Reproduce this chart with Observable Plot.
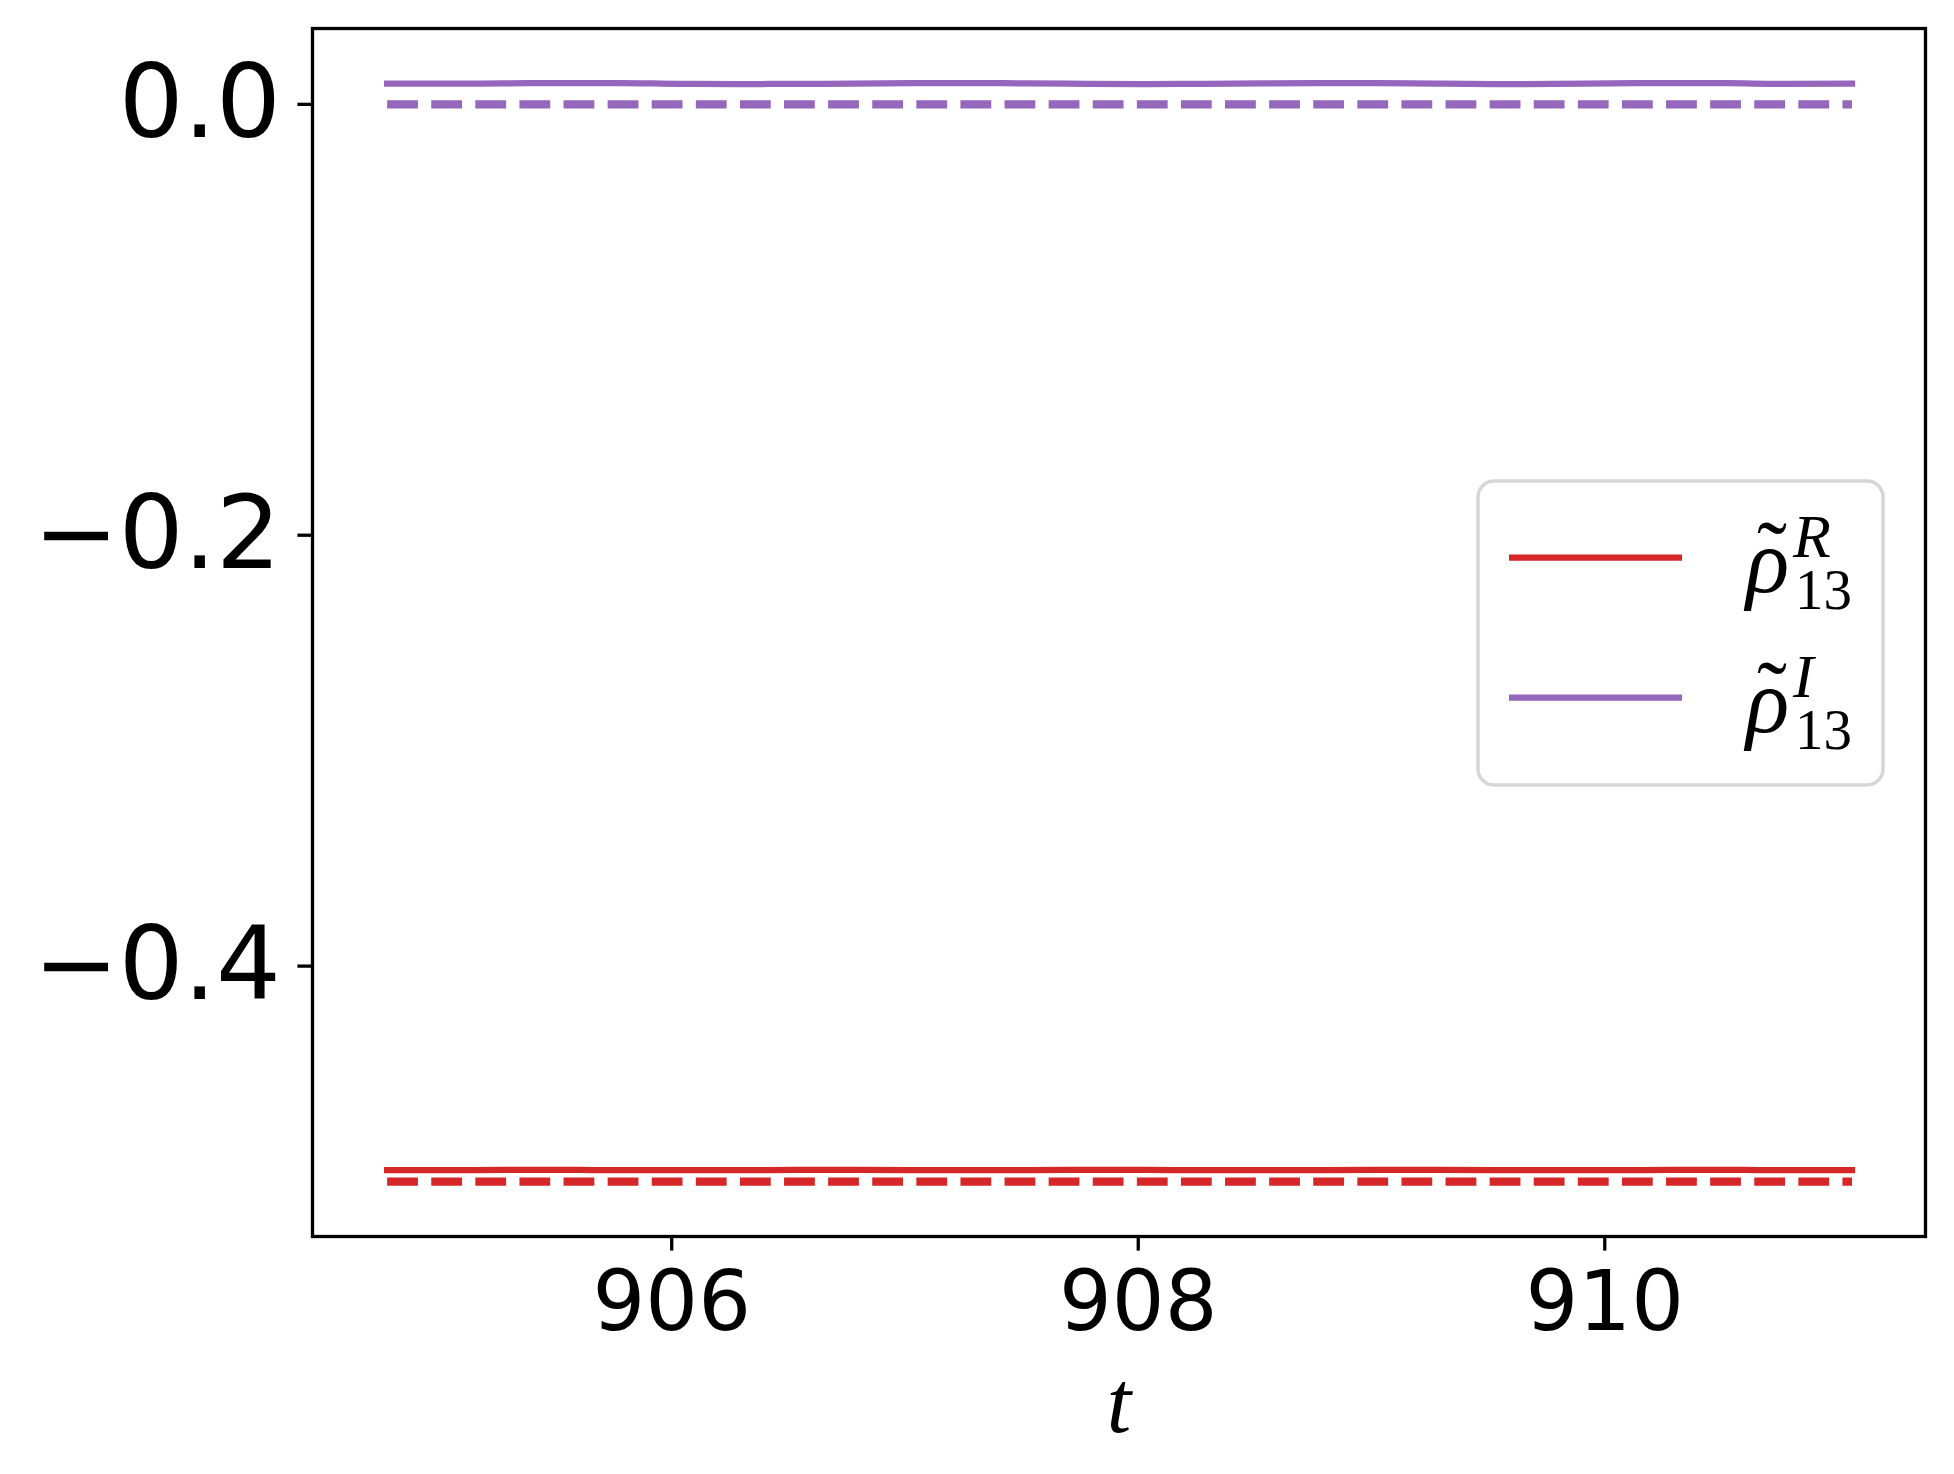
<!DOCTYPE html>
<html>
<head>
<meta charset="utf-8">
<script src="https://cdn.jsdelivr.net/npm/d3@7"></script>
<script src="https://cdn.jsdelivr.net/npm/@observablehq/plot@0.6"></script>
<style>
  html, body { margin: 0; padding: 0; background: #fff; }
  #chart { position: relative; width: 1954px; height: 1474px; }
</style>
</head>
<body>
<div id="chart"></div>
<script>
// ---- data ----
const tValues = [904.78, 905.03, 905.28, 905.53, 905.78, 906.03, 906.28, 906.53, 906.78, 907.03,
                 907.28, 907.53, 907.78, 908.03, 908.28, 908.53, 908.78, 909.03, 909.28, 909.53,
                 909.78, 910.03, 910.28, 910.53, 910.78, 911.06];
const rhoR = [-0.4947, -0.4947, -0.4946, -0.4946, -0.4947, -0.4947, -0.4947, -0.4946, -0.4946, -0.4947,
              -0.4947, -0.4947, -0.4946, -0.4946, -0.4947, -0.4947, -0.4947, -0.4946, -0.4946, -0.4947,
              -0.4947, -0.4947, -0.4946, -0.4946, -0.4947, -0.4947];
const rhoI = [0.0096, 0.0096, 0.0097, 0.0099, 0.0099, 0.0095, 0.0094, 0.0095, 0.0096, 0.0098,
              0.0099, 0.0097, 0.0095, 0.0094, 0.0095, 0.0097, 0.0099, 0.0098, 0.0096, 0.0094,
              0.0095, 0.0097, 0.0099, 0.0098, 0.0095, 0.0096];
const rhoRRef = -0.5;   // dashed reference for the real part
const rhoIRef = 0.0;    // dashed reference for the imaginary part
const xTicks = [906, 908, 910];
const yTicks = [0, -0.2, -0.4];
const seriesNames = ["R", "I"];
const seriesColors = ["#d62728", "#9467bd"];

// ---- tables built from the arrays ----
const solid = [
  ...tValues.map((t, i) => ({t, v: rhoR[i], s: "R"})),
  ...tValues.map((t, i) => ({t, v: rhoI[i], s: "I"}))
];
const dashed = [
  ...tValues.map(t => ({t, v: rhoRRef, s: "R"})),
  ...tValues.map(t => ({t, v: rhoIRef, s: "I"}))
];

const color = {domain: seriesNames, range: seriesColors};

const plot = Plot.plot({
  width: 1954,
  height: 1474,
  marginLeft: 312,
  marginRight: 29,
  marginTop: 28,
  marginBottom: 238,
  style: {fontFamily: "DejaVu Sans", background: "#fff", color: "#000", overflow: "visible"},
  x: {domain: [904.46, 911.375]},
  y: {domain: [-0.5255, 0.0352]},
  color,
  marks: [
    Plot.line(dashed, {x: "t", y: "v", z: "s", stroke: "s", strokeWidth: 8.3,
      strokeDasharray: "30.8,13.3", strokeLinecap: "butt"}),
    Plot.line(solid, {x: "t", y: "v", z: "s", stroke: "s", strokeWidth: 6.25,
      strokeLinecap: "square", curve: "monotone-x"}),
    Plot.frame({stroke: "#000", strokeWidth: 3.3}),
    Plot.axisX({ticks: xTicks, tickFormat: d3.format("d"), tickSize: 14.6, tickPadding: 20,
      fontSize: 83, strokeWidth: 3.3, label: null}),
    Plot.axisX({ticks: [], label: "t", labelAnchor: "center", labelArrow: "none",
      labelOffset: 195, fontSize: 88, fontStyle: "italic", fontFamily: "Liberation Serif"}),
    Plot.axisY({ticks: yTicks, tickFormat: d3.format(".1f"), tickSize: 14.6, tickPadding: 17,
      fontSize: 102, strokeWidth: 3.3, label: null})
  ]
});

document.getElementById("chart").appendChild(plot);

// ---- legend (inside the plot, right side) ----
const svg = d3.select(plot);
const lg = svg.append("g").attr("class", "legend").attr("text-anchor", "start");
lg.append("rect")
  .attr("x", 1478).attr("y", 481).attr("width", 405).attr("height", 304)
  .attr("rx", 16).attr("ry", 16)
  .attr("fill", "#fff").attr("fill-opacity", 0.8)
  .attr("stroke", "#d6d6d6").attr("stroke-width", 3.5);

const sups = ["R", "I"];
seriesNames.forEach((name, i) => {
  const yLine = 557.7 + i * 140;
  lg.append("line")
    .attr("x1", 1509).attr("x2", 1682).attr("y1", yLine).attr("y2", yLine)
    .attr("stroke", seriesColors[i]).attr("stroke-width", 6.25);
  const base = yLine + 34;
  const txt = lg.append("text")
    .attr("font-family", "Liberation Serif")
    .attr("fill", "#000")
    .attr("text-anchor", "start");
  txt.append("tspan").text("ρ")
    .attr("x", 1746).attr("y", base)
    .attr("font-style", "italic").attr("font-size", 90);
  txt.append("tspan").text("˜")
    .attr("x", 1757).attr("y", base - 8)
    .attr("font-size", 90);
  txt.append("tspan").text(sups[i])
    .attr("x", 1793).attr("y", base - 35)
    .attr("font-style", "italic").attr("font-size", 62);
  txt.append("tspan").text("13")
    .attr("x", 1795).attr("y", base + 17)
    .attr("font-size", 57);
});
</script>
</body>
</html>
